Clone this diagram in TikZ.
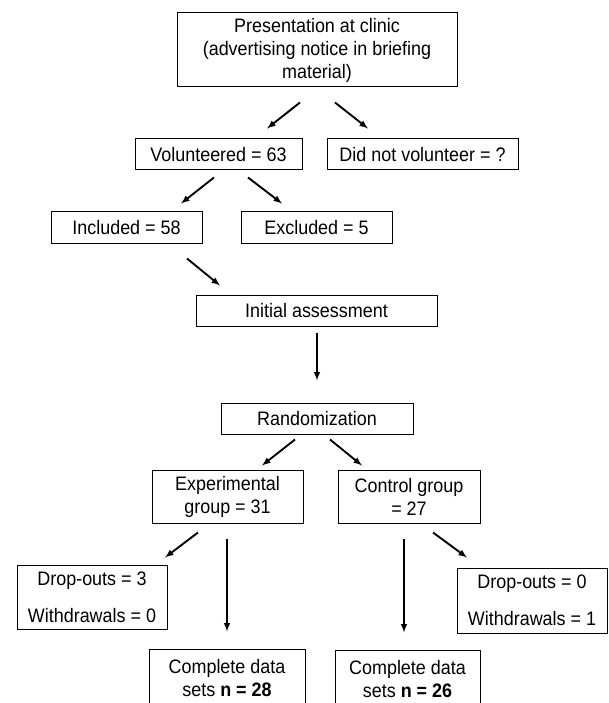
\documentclass[tikz,border=0pt]{standalone}
\usepackage{fontspec}
\setmainfont{Liberation Sans}[FakeStretch=0.92]
\usetikzlibrary{arrows}

\begin{document}
\begin{tikzpicture}[x=1pt,y=-1pt,>=latex,
	box/.style={shape=rectangle,draw,line width=1pt,inner sep=0pt,align=center,font=\fontsize{19.5}{23}\selectfont},
	link/.style={->,line width=1.9pt}]
	\useasboundingbox (0,0) rectangle (608,703);
	\path (317,50) node (pres) [box,minimum width=280pt,minimum height=74pt] {Presentation at clinic\\(advertising notice in briefing\\material)}
		  (218.5,154.5) node (vol) [box,minimum width=167pt,minimum height=31pt] {Volunteered = 63}
		  (422.5,154.5) node (notvol) [box,minimum width=191pt,minimum height=31pt] {Did not volunteer = ?}
		  (126.5,227.5) node (incl) [box,minimum width=151pt,minimum height=31pt] {Included = 58}
		  (316.5,227.5) node (excl) [box,minimum width=151pt,minimum height=31pt] {Excluded = 5}
		  (316.5,310.5) node (init) [box,minimum width=241pt,minimum height=31pt] {Initial assessment}
		  (317,418.5) node (rand) [box,minimum width=192pt,minimum height=31pt] {Randomization}
		  (227.5,496.5) node (expgrp) [box,minimum width=151pt,minimum height=53pt] {Experimental\\group = 31}
		  (409,496.5) node (ctrlgrp) [box,minimum width=142pt,minimum height=53pt] {Control group\\= 27}
		  (92,597) node (dropexp) [box,minimum width=150pt,minimum height=64pt] {Drop-outs = 3\\[14pt]Withdrawals = 0}
		  (532,600.5) node (dropctrl) [box,minimum width=150pt,minimum height=65pt] {Drop-outs = 0\\[14pt]Withdrawals = 1}
		  (227,678) node (compexp) [box,minimum width=156pt,minimum height=58pt] {Complete data\\sets \textbf{n = 28}}
		  (407.5,679) node (compctrl) [box,minimum width=145pt,minimum height=58pt] {Complete data\\sets \textbf{n = 26}};
	\draw[link] ([shift={(-17,15)}]pres.south) -- ([shift={(48.5,-10)}]vol.north);
	\draw[link] ([shift={(18,15)}]pres.south) -- ([shift={(-54.5,-10)}]notvol.north);
	\draw[link] ([shift={(-4.5,7)}]vol.south) -- ([shift={(54.5,-8)}]incl.north);
	\draw[link] ([shift={(29.5,7)}]vol.south) -- ([shift={(-34.5,-8)}]excl.north);
	\draw[link] ([shift={(60.5,15)}]incl.south) -- ([shift={(-96.5,-9)}]init.north);
	\draw[link] ([shift={(0.5,6)}]init.south) -- ([shift={(0,-22)}]rand.north);
	\draw[link] ([shift={(-22,5)}]rand.south) -- ([shift={(34.5,-4)}]expgrp.north);
	\draw[link] ([shift={(13,5)}]rand.south) -- ([shift={(-47,-4)}]ctrlgrp.north);
	\draw[link] ([shift={(-29.5,9)}]expgrp.south) -- ([shift={(73,-7)}]dropexp.north);
	\draw[link] ([shift={(-0.5,15)}]expgrp.south) -- ([shift={(0,-17)}]compexp.north);
	\draw[link] ([shift={(-5,15)}]ctrlgrp.south) -- ([shift={(-3.5,-17)}]compctrl.north);
	\draw[link] ([shift={(24,9)}]ctrlgrp.south) -- ([shift={(-65,-10)}]dropctrl.north);
\end{tikzpicture}
\end{document}
